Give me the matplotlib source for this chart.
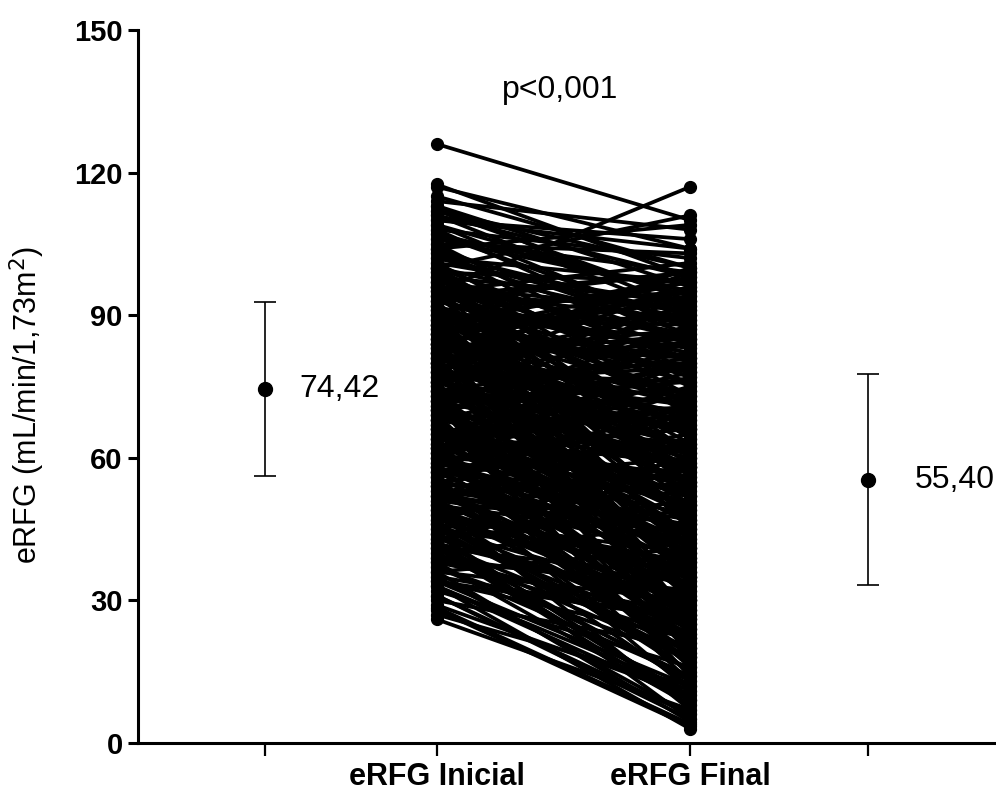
import numpy as np
import matplotlib.pyplot as plt

# paired eRFG values (initial -> final)
erfg_inicial = [
    126, 117.5, 117, 114, 113, 112, 111, 110, 109, 108,
    95, 100, 104, 106, 107, 105, 103, 102, 101, 100,
    99, 98, 97, 96, 95, 94, 93, 92, 91, 90,
    89, 88, 87, 86, 85, 84, 83, 82, 81, 80,
    99, 97, 95, 93, 91, 89, 87, 85, 83, 81,
    79, 78, 77, 76, 75, 74, 73, 72, 71, 70,
    80, 78, 76, 74, 72, 70, 68, 66, 64, 62,
    69, 68, 67, 66, 65, 64, 63, 62, 61, 60,
    59, 58, 57, 56, 55, 54, 53, 52, 51, 50,
    49, 48, 47, 46, 45, 44, 43, 42, 41, 40,
    39, 38, 37, 36, 35, 34, 33, 32, 31, 30,
    29, 28.5, 28, 27, 26, 33, 31, 36, 41, 44,
    115, 113, 111, 109, 107, 105, 103, 101, 99, 97,
    96, 94, 92, 90, 88, 86, 84, 82, 80, 78,
    76, 74, 72, 70, 68, 66, 64, 62, 60, 58,
    86, 84, 82, 80, 78, 76, 74, 72, 70, 68,
    66, 64, 62, 60, 58, 56, 54, 52, 50, 48,
    93, 91, 89, 87, 85, 83, 81, 79, 77, 75,
    73, 71, 69, 67, 65, 63, 61, 59, 57, 55,
    98, 96, 94, 92, 90, 88, 86, 84, 82, 80,
    97, 95, 93, 91, 89, 87, 85, 83, 81, 79,
    77, 75, 73, 71, 69, 67, 65, 63, 61, 59,
    57, 55, 53, 51, 49, 47, 45, 43, 41, 39,
    100, 98, 96, 94, 92, 90, 88, 86, 84, 82,
    75, 73, 71, 69, 67, 65, 63, 61, 59, 57,
    90, 86, 82, 78, 74, 70, 66, 62, 58, 54,
    112, 108, 104, 100, 96, 92, 88, 84, 80, 76,
    52, 50, 48, 46, 44, 42, 40, 38, 36, 34,
    88, 84, 80, 76, 72, 68, 64, 60, 56, 52,
    110, 106, 102, 98, 94, 90, 86, 82, 78, 74,
    45, 43, 41, 39, 37, 35, 33, 47, 49, 51,
    60, 58, 56, 54, 52, 50, 48, 46, 44, 42,
    70, 66, 62, 58, 54, 50, 46, 42, 38, 34,
    85, 81, 77, 73, 69, 65, 61, 57, 53, 49,
    104, 100, 96, 92, 88, 84, 80, 76, 72, 68,
]
erfg_final = [
    110, 98, 104, 108, 96, 100, 90, 106, 94, 102,
    117, 111, 109, 99, 88, 103, 84, 97, 92, 80,
    75, 93, 60, 86, 101, 70, 82, 55, 95, 66,
    78, 48, 90, 62, 72, 38, 85, 58, 69, 44,
    64, 52, 40, 77, 30, 88, 57, 68, 25, 74,
    62, 35, 80, 55, 46, 70, 28, 60, 52, 40,
    65, 20, 58, 49, 84, 33, 63, 42, 55, 18,
    50, 73, 38, 61, 27, 56, 44, 66, 35, 48,
    42, 22, 52, 30, 47, 15, 39, 58, 26, 36,
    33, 12, 40, 24, 30, 9, 28, 20, 35, 14,
    25, 8, 18, 30, 6, 22, 11, 16, 5, 20,
    10, 4, 3.5, 12, 7, 3, 6, 4.5, 8, 5,
    100, 91, 98, 87, 95, 78, 90, 73, 97, 85,
    45, 82, 50, 89, 36, 79, 43, 96, 31, 71,
    87, 23, 76, 59, 16, 54, 71, 29, 62, 45,
    67, 26, 54, 91, 37, 68, 19, 48, 79, 58,
    34, 50, 13, 57, 40, 64, 28, 46, 21, 38,
    99, 83, 46, 94, 61, 53, 86, 41, 92, 57,
    81, 39, 67, 24, 78, 53, 17, 69, 32, 60,
    83, 71, 92, 63, 76, 98, 59, 81, 47, 100,
    56, 89, 35, 72, 97, 27, 65, 50, 84, 21,
    90, 43, 74, 14, 85, 47, 69, 37, 80, 51,
    63, 19, 54, 44, 27, 60, 37, 49, 18, 32,
    88, 61, 77, 54, 66, 41, 73, 35, 95, 62,
    94, 66, 50, 88, 41, 70, 22, 77, 45, 68,
    52, 97, 36, 76, 63, 93, 52, 88, 74, 56,
    93, 84, 75, 69, 91, 47, 81, 71, 99, 79,
    70, 43, 55, 38, 51, 29, 46, 34, 41, 26,
    34, 58, 30, 66, 25, 80, 59, 75, 65, 44,
    104, 95, 89, 78, 99, 85, 93, 87, 96, 82,
    18, 28, 10, 22, 14, 26, 9, 31, 15, 27,
    29, 36, 11, 24, 33, 7, 30, 17, 23, 13,
    39, 45, 16, 25, 21, 35, 19, 9, 27, 12,
    58, 32, 49, 39, 20, 41, 24, 33, 46, 23,
    86, 64, 81, 73, 55, 67, 42, 61, 72, 31,
]

# summary (mean, SD) shown beside the paired plot
mean_inicial, sd_inicial = 74.42, 18.3
mean_final, sd_final = 55.40, 22.2
mean_labels = ["74,42", "55,40"]
group_labels = ["", "eRFG Inicial", "eRFG Final", ""]
p_text = "p<0,001"

# x layout
x_tick_pos = [0.0, 1.0, 2.471, 3.506]

fig = plt.figure(figsize=(9.96, 7.94), dpi=100)
ax = fig.add_axes([138 / 996, 51 / 794, 858 / 996, 713 / 794])

for a, b in zip(erfg_inicial, erfg_final):
    ax.plot([x_tick_pos[1], x_tick_pos[2]], [a, b], color='black', lw=2.7,
            marker='o', ms=8.5, solid_capstyle='round', zorder=2)

ax.errorbar(x_tick_pos[0], mean_inicial, yerr=sd_inicial, fmt='o', color='black',
            ms=10, elinewidth=1.2, capsize=8, capthick=1.2)
ax.errorbar(x_tick_pos[3], mean_final, yerr=sd_final, fmt='o', color='black',
            ms=10, elinewidth=1.2, capsize=8, capthick=1.2)

ax.text(0.203, mean_inicial, mean_labels[0], fontsize=23, family='Liberation Sans',
        va='center', ha='left')
ax.text(3.78, mean_final, mean_labels[1], fontsize=23, family='Liberation Sans',
        va='center', ha='left')
ax.text(1.715, 137.4, p_text, fontsize=23, family='Liberation Sans',
        va='center', ha='center')

ax.set_xlim(-0.738, 4.25)
ax.set_ylim(0, 150)
ax.set_yticks([0, 30, 60, 90, 120, 150])
ax.set_xticks(x_tick_pos)
ax.set_xticklabels(group_labels)

for side in ['top', 'right']:
    ax.spines[side].set_visible(False)
for side in ['left', 'bottom']:
    ax.spines[side].set_linewidth(2.2)

ax.tick_params(axis='y', length=7, width=2.2, pad=4)
ax.tick_params(axis='x', length=9, width=1.6, pad=5)
for lab in ax.get_yticklabels():
    lab.set_fontfamily('Liberation Sans')
    lab.set_fontweight('bold')
    lab.set_fontsize(21)
for lab in ax.get_xticklabels():
    lab.set_fontfamily('Liberation Sans')
    lab.set_fontweight('bold')
    lab.set_fontsize(22)

fig.text(27 / 996, 1 - 405 / 794, "eRFG (mL/min/1,73m$^2$)", rotation=90,
         fontsize=22, family=['Liberation Sans Narrow', 'Liberation Sans'],
         va='center', ha='center')

plt.savefig("out.png", dpi=100)
